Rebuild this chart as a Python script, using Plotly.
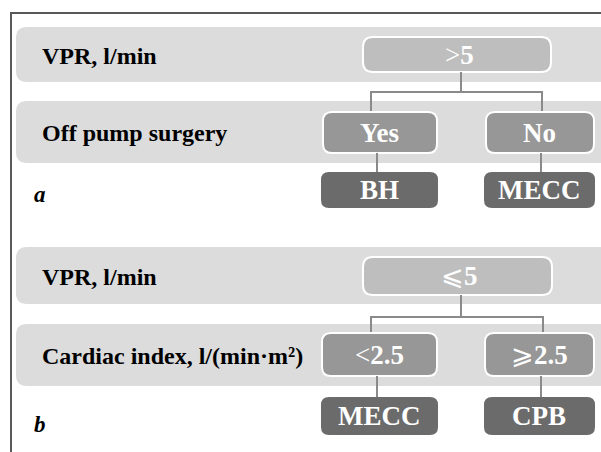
import plotly.graph_objects as go

# ---- diagram content ----
row_labels_a = ["VPR, l/min", "Off pump surgery"]
row_labels_b = ["VPR, l/min", "Cardiac index, l/(min·m²)"]
root_a = ">5"
branch_a = ["Yes", "No"]
leaf_a = ["BH", "MECC"]
root_b = "⩽5"
branch_b = ["<2.5", "⩾2.5"]
leaf_b = ["MECC", "CPB"]
panel_tags = ["a", "b"]

W, H = 601, 452
BAND = "#dcdcdc"
ROOT = "#bebebe"
MID = "#979797"
LEAF = "#6b6b6b"
LINE = "#8a8a8a"
FONT = "Liberation Serif"
LABEL_SIZE = 24
NODE_SIZE = 27

fig = go.Figure()
shapes = []
annotations = []


def rrect(x0, y0, x1, y1, r, fill, line_color=None, lw=0, round_right=True):
    if round_right:
        p = (f"M{x0+r},{y0} L{x1-r},{y0} Q{x1},{y0} {x1},{y0+r} L{x1},{y1-r} "
             f"Q{x1},{y1} {x1-r},{y1} L{x0+r},{y1} Q{x0},{y1} {x0},{y1-r} "
             f"L{x0},{y0+r} Q{x0},{y0} {x0+r},{y0} Z")
    else:
        p = (f"M{x0+r},{y0} L{x1},{y0} L{x1},{y1} L{x0+r},{y1} Q{x0},{y1} {x0},{y1-r} "
             f"L{x0},{y0+r} Q{x0},{y0} {x0+r},{y0} Z")
    shapes.append(dict(type="path", path=p, xref="x", yref="y", fillcolor=fill,
                       line=dict(color=line_color or fill, width=lw), layer="below"))


def seg(x0, y0, x1, y1):
    shapes.append(dict(type="line", x0=x0, y0=y0, x1=x1, y1=y1, xref="x", yref="y",
                       line=dict(color=LINE, width=2), layer="below"))


def text(x, y, s, size, color="black", xanchor="center"):
    annotations.append(dict(x=x, y=y, xref="x", yref="y", text=s, showarrow=False,
                            xanchor=xanchor, yanchor="middle",
                            font=dict(family=FONT, size=size, color=color)))


def node_label(s):
    # math symbols drawn in regular weight, digits/words bold
    sym = ""
    while s and s[0] in "<>⩽⩾":
        sym += s[0]
        s = s[1:]
    return sym + f"<b>{s}</b>"


def bands(labels, b1, b2):
    rrect(16, b1[0], 640, b1[1], 11, BAND, round_right=False)
    rrect(16, b2[0], 640, b2[1], 11, BAND, round_right=False)
    text(40, (b1[0] + b1[1]) / 2 + 1, f"<b>{labels[0]}</b>", LABEL_SIZE, xanchor="left")
    text(40, (b2[0] + b2[1]) / 2 + 1, f"<b>{labels[1]}</b>", LABEL_SIZE, xanchor="left")


# ---- panel a ----
bands(row_labels_a, (27, 82), (101, 163))
rrect(363, 37, 551, 72, 10, ROOT, "white", 2)
text(459, 55, node_label(root_a), NODE_SIZE, "white")
seg(461, 72, 461, 92); seg(370, 92, 543, 92); seg(371, 92, 371, 112); seg(542, 92, 542, 112)
rrect(323, 112, 437, 153, 9, MID, "white", 2)
rrect(486, 112, 594, 153, 9, MID, "white", 2)
text(379, 133, node_label(branch_a[0]), NODE_SIZE, "white")
text(539, 133, node_label(branch_a[1]), NODE_SIZE, "white")
seg(377, 153, 377, 172); seg(541, 153, 541, 172)
rrect(321, 172, 438, 208, 8, LEAF)
rrect(484, 172, 595, 208, 8, LEAF)
text(379, 190, node_label(leaf_a[0]), NODE_SIZE, "white")
text(539, 190, node_label(leaf_a[1]), NODE_SIZE, "white")
text(32, 194, f"<b><i>{panel_tags[0]}</i></b>", 23, xanchor="left")

# ---- panel b ----
bands(row_labels_b, (247, 304), (324, 386))
rrect(363, 257, 552, 295, 10, ROOT, "white", 2)
text(459, 276, node_label(root_b), NODE_SIZE, "white")
seg(461, 295, 461, 317); seg(370, 317, 544, 317); seg(371, 317, 371, 333); seg(543, 317, 543, 333)
rrect(322, 333, 437, 376, 9, MID, "white", 2)
rrect(485, 333, 594, 376, 9, MID, "white", 2)
text(379, 355, node_label(branch_b[0]), NODE_SIZE, "white")
text(539, 355, node_label(branch_b[1]), NODE_SIZE, "white")
seg(377, 376, 377, 397); seg(541, 376, 541, 397)
rrect(321, 397, 438, 435, 8, LEAF)
rrect(484, 397, 595, 435, 8, LEAF)
text(379, 416, node_label(leaf_b[0]), NODE_SIZE, "white")
text(539, 416, node_label(leaf_b[1]), NODE_SIZE, "white")
text(32, 424, f"<b><i>{panel_tags[1]}</i></b>", 23, xanchor="left")

# frame (left + top)
shapes.append(dict(type="path", path="M11,460 L11,13 L640,13", xref="x", yref="y",
                   line=dict(color="#585858", width=2), layer="above"))

fig.update_layout(
    width=W, height=H, margin=dict(l=0, r=0, t=0, b=0),
    paper_bgcolor="white", plot_bgcolor="white",
    xaxis=dict(range=[0, W], visible=False, fixedrange=True),
    yaxis=dict(range=[H, 0], visible=False, fixedrange=True),
    shapes=shapes, annotations=annotations, showlegend=False,
)
fig.write_html("out.html", config={"displayModeBar": False},
               post_script="document.body.style.margin='0';document.body.style.overflow='hidden';")
